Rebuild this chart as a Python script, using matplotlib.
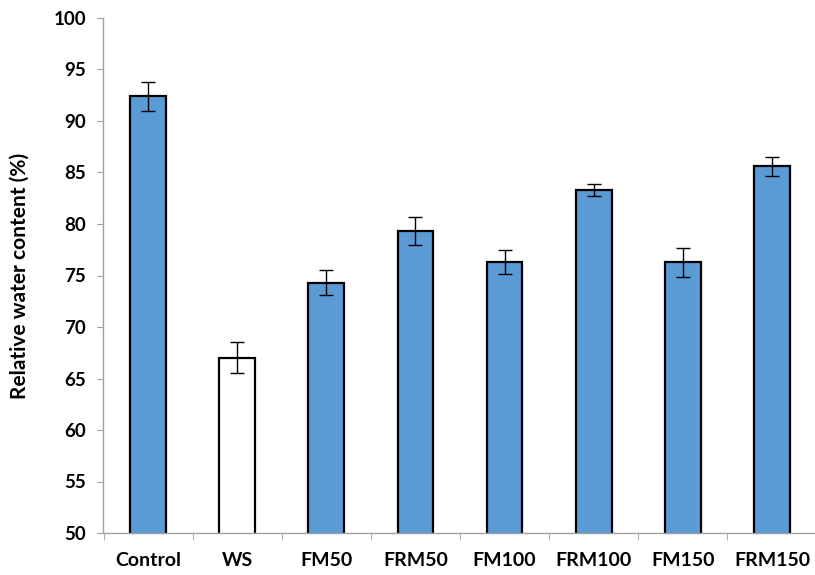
import matplotlib
matplotlib.use("Agg")
import matplotlib.pyplot as plt
import numpy as np

categories = ["Control", "WS", "FM50", "FRM50", "FM100", "FRM100", "FM150", "FRM150"]
values = [92.4, 67.0, 74.3, 79.3, 76.3, 83.3, 76.3, 85.6]
errors = [1.4, 1.5, 1.2, 1.35, 1.2, 0.6, 1.4, 0.9]
colors = ["#5B9BD5", "white", "#5B9BD5", "#5B9BD5", "#5B9BD5", "#5B9BD5", "#5B9BD5", "#5B9BD5"]
yticks = [50, 55, 60, 65, 70, 75, 80, 85, 90, 95, 100]

plt.rcParams['font.family'] = ['Lato', 'DejaVu Sans']

fig = plt.figure(figsize=(8.15, 5.75), dpi=100)
ax = fig.add_axes([103.5/815, 1-533/575, 713/815, (533-18)/575])

x = np.arange(len(categories))
ax.bar(x, values, width=0.40, color=colors, edgecolor="black", linewidth=1.6, zorder=2)
ax.errorbar(x, values, yerr=errors, fmt="none", ecolor="black", elinewidth=1, capsize=5, capthick=1, zorder=3)

ax.set_ylim(50, 100)
ax.set_xlim(-0.5, len(categories) - 0.5)
ax.set_yticks(yticks)
ax.set_yticklabels([str(t) for t in yticks], fontsize=13.5, fontweight="bold")
ax.set_xticks(x)
ax.set_xticklabels(categories, fontsize=14, fontweight="bold")
ax.set_xticks(np.arange(len(categories) + 1) - 0.5, minor=True)
ax.tick_params(axis="x", which="major", length=0, pad=14)
ax.tick_params(axis="x", which="minor", length=5, color="#A0A0A0", direction="out")
ax.tick_params(axis="y", length=4.5, color="#A0A0A0", direction="out", pad=8)

for s in ["top", "right"]:
    ax.spines[s].set_visible(False)
for s in ["left", "bottom"]:
    ax.spines[s].set_color("#A0A0A0")
    ax.spines[s].set_linewidth(1)

ax.set_ylabel("Relative water content (%)", fontsize=15, fontweight="bold", labelpad=17)

fig.savefig("out.png", dpi=100)
